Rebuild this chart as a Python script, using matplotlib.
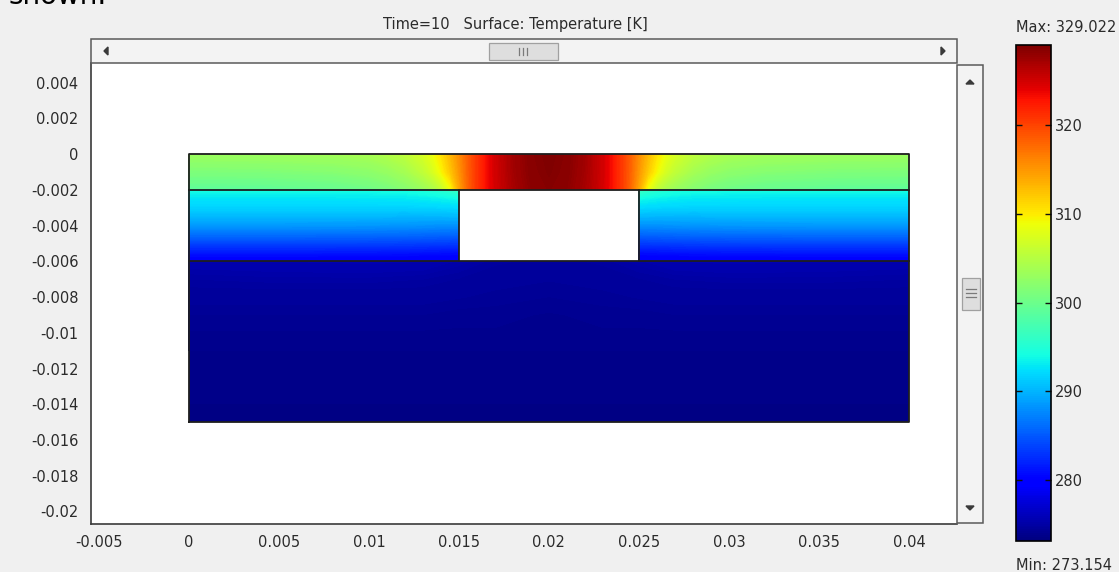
import numpy as np
import matplotlib
matplotlib.use("Agg")
import matplotlib.pyplot as plt
from matplotlib.patches import Rectangle, Polygon
from matplotlib.transforms import Affine2D
from matplotlib.cm import ScalarMappable
from matplotlib.colors import Normalize

W, H = 1119, 572
T_MIN, T_MAX = 273.154, 329.022
CBAR_TICKS = [280, 290, 300, 310, 320]
X_TICKS = [-0.005, 0, 0.005, 0.01, 0.015, 0.02, 0.025, 0.03, 0.035, 0.04]
Y_TICKS = [0.004, 0.002, 0, -0.002, -0.004, -0.006, -0.008, -0.01, -0.012,
           -0.014, -0.016, -0.018, -0.02]

# Geometry (mm): top film, middle layer with cavity, substrate
DOMAIN_X = (0.0, 40.0)
FILM_Y = (-2.0, 0.0)
MID_Y = (-6.0, -2.0)
SUB_Y = (-15.0, -6.0)
CAVITY_X = (15.0, 25.0)

# Temperature samples [K] in the top film
film_x = [0, 4, 8, 10, 11, 12, 13, 13.5, 14, 14.5, 15, 15.5, 16, 16.5, 17, 18, 19,
          20, 21, 22, 23, 23.5, 24, 24.5, 25, 25.5, 26, 26.5, 27, 28, 29, 30, 32, 36, 40]
film_y = [-2.0, -1.0, 0.0]
film_T = [
    [299.0, 299.1, 299.6, 300.2, 300.8, 301.7, 303.0, 304.0, 305.6, 308.5, 314.0, 318.0,
     320.8, 323.0, 324.8, 327.0, 328.3, 328.7, 328.3, 327.0, 324.8, 323.0, 320.8, 318.0,
     314.0, 308.5, 305.6, 304.0, 303.0, 301.7, 300.8, 300.2, 299.6, 299.1, 299.0],
    [301.2, 301.3, 301.7, 302.2, 302.8, 303.8, 305.6, 307.0, 309.2, 312.0, 315.0, 318.2,
     320.8, 323.0, 324.9, 327.2, 328.5, 328.9, 328.5, 327.2, 324.9, 323.0, 320.8, 318.2,
     315.0, 312.0, 309.2, 307.0, 305.6, 303.8, 302.8, 302.2, 301.7, 301.3, 301.2],
    [303.2, 303.3, 303.6, 304.0, 304.6, 305.5, 307.2, 308.5, 310.5, 313.0, 315.5, 318.3,
     320.8, 323.0, 324.9, 327.3, 328.6, 329.0, 328.6, 327.3, 324.9, 323.0, 320.8, 318.3,
     315.5, 313.0, 310.5, 308.5, 307.2, 305.5, 304.6, 304.0, 303.6, 303.3, 303.2],
]

# Middle layer, left and right of the cavity
mid_y = [-6.0, -5.5, -5.0, -4.5, -4.0, -3.5, -3.0, -2.5, -2.0]
mid_left_x = [0, 5, 10, 12, 13, 14, 15]
mid_left_T = [
    [279.3, 279.3, 279.2, 279.1, 279.0, 278.9, 278.8],
    [281.4, 281.4, 281.3, 281.2, 281.1, 281.0, 280.9],
    [283.8, 283.8, 283.7, 283.6, 283.5, 283.4, 283.3],
    [286.2, 286.2, 286.1, 286.0, 285.9, 285.8, 285.7],
    [288.4, 288.4, 288.3, 288.2, 288.1, 288.0, 288.0],
    [290.2, 290.2, 290.1, 290.0, 290.0, 290.0, 290.1],
    [291.6, 291.6, 291.6, 291.6, 291.7, 291.8, 292.0],
    [292.6, 292.6, 292.7, 292.8, 293.0, 293.3, 293.8],
    [294.0, 294.0, 294.1, 294.3, 294.7, 295.4, 296.5],
]
mid_right_x = [25, 26, 27, 28, 30, 35, 40]
mid_right_T = [
    [278.8, 278.9, 279.0, 279.1, 279.2, 279.3, 279.3],
    [280.9, 281.0, 281.1, 281.2, 281.3, 281.4, 281.4],
    [283.3, 283.4, 283.5, 283.6, 283.7, 283.8, 283.8],
    [285.7, 285.8, 285.9, 286.0, 286.1, 286.2, 286.2],
    [288.0, 288.0, 288.1, 288.2, 288.3, 288.4, 288.4],
    [290.1, 290.0, 290.0, 290.0, 290.1, 290.2, 290.2],
    [292.0, 291.8, 291.7, 291.6, 291.6, 291.6, 291.6],
    [293.8, 293.3, 293.0, 292.8, 292.7, 292.6, 292.6],
    [296.5, 295.4, 294.7, 294.3, 294.1, 294.0, 294.0],
]

# Substrate
sub_x = [0, 5, 10, 13, 15, 17, 20, 23, 25, 27, 30, 35, 40]
sub_y = [-15.0, -12.0, -10.0, -9.0, -8.0, -7.0, -6.0]
sub_T = [
    [273.4] * 13,
    [273.7] * 13,
    [274.0] * 13,
    [274.2, 274.2, 274.2, 274.2, 274.1, 274.1, 274.0, 274.1, 274.1, 274.2, 274.2, 274.2, 274.2],
    [274.5, 274.5, 274.5, 274.5, 274.4, 274.3, 274.2, 274.3, 274.4, 274.5, 274.5, 274.5, 274.5],
    [274.9, 275.0, 275.0, 274.9, 274.7, 274.5, 274.4, 274.5, 274.7, 274.9, 275.0, 275.0, 274.9],
    [275.5, 275.6, 275.7, 275.6, 275.2, 274.8, 274.6, 274.8, 275.2, 275.6, 275.7, 275.6, 275.5],
]

BG = "#f0f0f0"
TXT = "#2b2b2b"

fig = plt.figure(figsize=(W / 100, H / 100), dpi=100, facecolor=BG)
px = Affine2D().scale(1 / W, -1 / H).translate(0, 1) + fig.transFigure


def fbox(x0, y0, x1, y1):
    return [x0 / W, 1 - y1 / H, (x1 - x0) / W, (y1 - y0) / H]


ax = fig.add_axes(fbox(91, 63, 957, 524))
ax.set_facecolor("white")
ax.set_xlim(-0.00544, 0.04267)
ax.set_ylim(-0.0207, 0.0051)

cmap = plt.get_cmap("jet")
levels = np.linspace(T_MIN, T_MAX, 320)
for xs, ys, T in [(film_x, film_y, film_T), (mid_left_x, mid_y, mid_left_T),
                  (mid_right_x, mid_y, mid_right_T), (sub_x, sub_y, sub_T)]:
    X, Y = np.meshgrid(np.array(xs) * 1e-3, np.array(ys) * 1e-3)
    ax.contourf(X, Y, np.array(T), levels=levels, cmap=cmap,
                vmin=T_MIN, vmax=T_MAX, antialiased=False, extend="both")

# Subdomain boundaries
edge = dict(color="#1e1e1e", lw=1.3, zorder=10, solid_capstyle="projecting")
m = 1e-3
ax.plot([DOMAIN_X[0] * m, DOMAIN_X[1] * m, DOMAIN_X[1] * m, DOMAIN_X[0] * m, DOMAIN_X[0] * m],
        [SUB_Y[0] * m, SUB_Y[0] * m, FILM_Y[1] * m, FILM_Y[1] * m, SUB_Y[0] * m], **edge)
ax.plot([DOMAIN_X[0] * m, DOMAIN_X[1] * m], [FILM_Y[0] * m] * 2, **edge)
ax.plot([DOMAIN_X[0] * m, DOMAIN_X[1] * m], [MID_Y[0] * m] * 2, **edge)
ax.plot([CAVITY_X[0] * m, CAVITY_X[0] * m], [MID_Y[0] * m, MID_Y[1] * m], **edge)
ax.plot([CAVITY_X[1] * m, CAVITY_X[1] * m], [MID_Y[0] * m, MID_Y[1] * m], **edge)

ax.set_xticks(X_TICKS)
ax.set_xticklabels([f"{v:g}" for v in X_TICKS])
ax.set_yticks(Y_TICKS)
ax.set_yticklabels([f"{v:g}" for v in Y_TICKS])
ax.tick_params(length=0, labelsize=10.5, labelcolor=TXT)
ax.tick_params(axis="x", pad=8)
ax.tick_params(axis="y", pad=9)
for s in ["top", "right"]:
    ax.spines[s].set_visible(False)
for s in ["left", "bottom"]:
    ax.spines[s].set_color("#3a3a3a")
    ax.spines[s].set_linewidth(1.2)

# Horizontal scrollbar
fig.add_artist(Rectangle((91, 39), 866, 24, transform=px, facecolor="#f3f3f3",
                         edgecolor="#5a5a5a", lw=1.1))
fig.add_artist(Rectangle((489, 43), 69, 17, transform=px, facecolor="#dedede",
                         edgecolor="#a0a0a0", lw=0.9))
for gx in (519, 523, 527):
    fig.add_artist(plt.Line2D([gx, gx], [48, 55], transform=px, color="#7a7a7a", lw=0.9))
fig.add_artist(Polygon([(104, 51), (108, 47), (108, 55)], transform=px, color="#3a3a3a"))
fig.add_artist(Polygon([(945, 51), (941, 47), (941, 55)], transform=px, color="#3a3a3a"))

# Vertical scrollbar
fig.add_artist(Rectangle((957, 65), 26, 458, transform=px, facecolor="#f3f3f3",
                         edgecolor="#5a5a5a", lw=1.1))
fig.add_artist(Rectangle((962, 278), 18, 32, transform=px, facecolor="#dedede",
                         edgecolor="#a0a0a0", lw=0.9))
for gy in (289, 293, 297):
    fig.add_artist(plt.Line2D([966, 976], [gy, gy], transform=px, color="#7a7a7a", lw=0.9))
fig.add_artist(Polygon([(970, 80), (966, 84), (974, 84)], transform=px, color="#3a3a3a"))
fig.add_artist(Polygon([(970, 510), (966, 506), (974, 506)], transform=px, color="#3a3a3a"))

# Title
fig.text(515 / W, 1 - 25 / H, "Time=10   Surface: Temperature [K]", ha="center",
         va="center", fontsize=10.5, color=TXT)
fig.text(8 / W, 1 - 4 / H, "shown.", ha="left", va="baseline", fontsize=20, color="black")

# Colorbar
cax = fig.add_axes(fbox(1016, 45, 1051, 541))
sm = ScalarMappable(norm=Normalize(T_MIN, T_MAX), cmap=cmap)
cb = fig.colorbar(sm, cax=cax, ticks=CBAR_TICKS)
cb.outline.set_linewidth(1.2)
cb.outline.set_edgecolor("black")
cax.tick_params(direction="in", length=4, width=1.0, color="#111111", left=True,
                right=True, labelsize=10.5, labelcolor=TXT, pad=3)
fig.text(1016 / W, 1 - 27 / H, f"Max: {T_MAX:.3f}", ha="left", va="center",
         fontsize=10.5, color=TXT)
fig.text(1016 / W, 1 - 566 / H, f"Min: {T_MIN:.3f}", ha="left", va="center",
         fontsize=10.5, color=TXT)

fig.savefig("out.png", dpi=100, facecolor=BG)
